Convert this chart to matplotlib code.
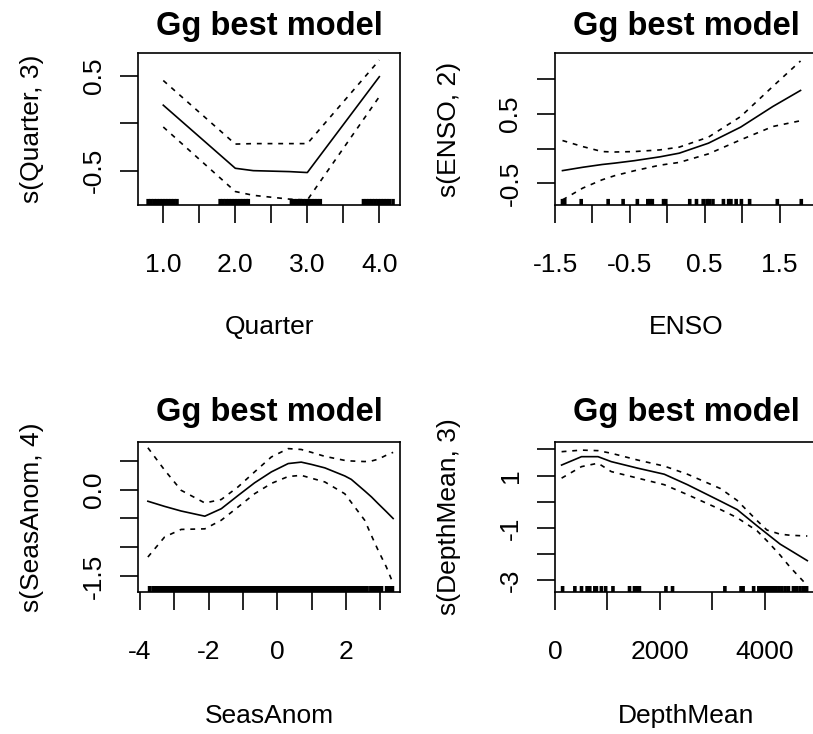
import matplotlib
matplotlib.use('Agg')
import matplotlib.pyplot as plt

plt.rcParams['font.family'] = 'Liberation Sans'
plt.rcParams['lines.scale_dashes'] = False

# ---- values ----

# Quarter, s(Quarter, 3)
quarter_x = [1.0, 2.0, 2.25, 2.75, 3.0, 4.0]
quarter_fit = [0.19, -0.475, -0.50, -0.51, -0.52, 0.49]
quarter_upper = [0.45, -0.22, -0.215, -0.215, -0.215, 0.665]
quarter_lower = [-0.04, -0.72, -0.76, -0.80, -0.81, 0.28]
quarter_rug = [0.79, 0.83, 0.87, 0.91, 0.95, 0.99, 1.03, 1.07, 1.11, 1.15, 1.19,
               1.79, 1.83, 1.87, 1.91, 1.95, 1.99, 2.03, 2.07, 2.11, 2.15, 2.18,
               2.78, 2.82, 2.86, 2.90, 2.94, 2.98, 3.02, 3.06, 3.10, 3.14, 3.18,
               3.78, 3.82, 3.86, 3.90, 3.94, 3.98, 4.02, 4.06, 4.10, 4.14, 4.19]

# ENSO, s(ENSO, 2)
enso_x = [-1.40, -1.13, -0.87, -0.70, -0.44, -0.10, 0.16, 0.55, 0.98, 1.41, 1.78]
enso_fit = [-0.318, -0.27, -0.23, -0.21, -0.175, -0.12, -0.067, 0.077, 0.308, 0.605, 0.836]
enso_upper = [0.115, 0.028, -0.044, -0.05, -0.044, -0.02, 0.02, 0.164, 0.46, 0.894, 1.26]
enso_lower = [-0.74, -0.57, -0.45, -0.39, -0.32, -0.24, -0.20, -0.077, 0.125, 0.317, 0.40]
enso_rug = [-1.40, -1.38, -1.37, -1.15, -0.79, -0.59, -0.40, -0.26, -0.23, -0.20,
            -0.05, -0.02, 0.30, 0.39, 0.48, 0.53, 0.56, 0.61, 0.75, 0.82, 0.85,
            0.92, 0.99, 1.10, 1.47, 1.79]

# SeasAnom, s(SeasAnom, 4)
seas_x = [-3.77, -3.28, -2.80, -2.11, -1.63, -1.14, -0.66, -0.17, 0.32, 0.70,
          1.00, 1.39, 1.97, 2.16, 2.55, 2.75, 2.94, 3.18, 3.38]
seas_fit = [-0.20, -0.29, -0.37, -0.46, -0.33, -0.10, 0.12, 0.31, 0.455, 0.48,
            0.44, 0.38, 0.24, 0.18, -0.02, -0.126, -0.24, -0.38, -0.50]
seas_upper = [0.73, 0.34, -0.01, -0.23, -0.17, 0.05, 0.31, 0.57, 0.715, 0.70,
              0.65, 0.58, 0.51, 0.50, 0.49, 0.50, 0.53, 0.60, 0.65]
seas_lower = [-1.17, -0.82, -0.69, -0.68, -0.53, -0.30, -0.07, 0.11, 0.23, 0.25,
              0.20, 0.135, -0.07, -0.22, -0.53, -0.80, -1.05, -1.34, -1.63]
seas_rug = [-3.72,
            -3.62, -3.54, -3.46, -3.38, -3.30, -3.22, -3.14, -3.06, -2.98, -2.90,
            -2.82, -2.74, -2.66, -2.58, -2.50, -2.42, -2.34, -2.26, -2.18, -2.10,
            -2.02, -1.94, -1.86, -1.78, -1.70, -1.62, -1.54, -1.46, -1.38, -1.30,
            -1.22, -1.14, -1.06, -0.98, -0.90, -0.82, -0.74, -0.66, -0.58, -0.50,
            -0.42, -0.34, -0.26, -0.18, -0.10, -0.02, 0.06, 0.14, 0.22, 0.30,
            0.38, 0.46, 0.54, 0.62, 0.70, 0.78, 0.86, 0.94, 1.02, 1.10,
            1.18, 1.26, 1.34, 1.42, 1.50, 1.58, 1.66, 1.74, 1.82, 1.90,
            1.98, 2.06, 2.14, 2.22, 2.30, 2.38, 2.46, 2.54, 2.62,
            2.73, 2.81, 2.89, 2.97, 3.04,
            3.19, 3.27, 3.36]

# DepthMean, s(DepthMean, 3)
depth_x = [126, 506, 821, 1074, 1580, 2085, 2528, 3160, 3476, 3855, 4044, 4297, 4487, 4815]
depth_fit = [1.40, 1.72, 1.72, 1.53, 1.28, 1.05, 0.65, 0.02, -0.30, -0.92, -1.22, -1.62, -1.85, -2.25]
depth_upper = [1.91, 1.97, 1.95, 1.85, 1.59, 1.36, 1.05, 0.50, 0.05, -0.72, -1.08, -1.24, -1.28, -1.31]
depth_lower = [0.90, 1.34, 1.47, 1.15, 0.90, 0.65, 0.27, -0.30, -0.61, -1.11, -1.49, -2.04, -2.50, -3.20]
depth_rug = [145, 379, 506, 613, 664, 760, 790, 885, 967, 1106, 1422, 1517, 1561, 1611,
             2117, 2243, 3242, 3550, 3590, 3791,
             3890, 3945, 4000, 4055, 4110, 4165, 4220, 4275, 4330,
             4392, 4455, 4550, 4613, 4677, 4739, 4802]

# ---- figure layout (pixels of the 813x734 picture) ----
W, H = 813, 734
fig = plt.figure(figsize=(W / 100, H / 100), dpi=100)
fig.patch.set_facecolor('white')

AX_W = 262


def add_axes_px(left, top, height):
    return fig.add_axes([left / W, 1 - (top + height) / H, AX_W / W, height / H])


def draw_panel(ax, x, fit, upper, lower, rug, xlim, ylim, xticks, xlabels,
               yticks, ylabels, xlabel, ylabel, height, title_pad, xlabel_drop):
    ax.plot(x, fit, color='black', lw=1.2)
    ax.plot(x, upper, color='black', lw=1.2, dashes=(3.5, 4.2))
    ax.plot(x, lower, color='black', lw=1.2, dashes=(3.5, 4.2))
    rl = ax.vlines(rug, 0, 0.04, transform=ax.get_xaxis_transform(),
                   color='black', lw=2.6)
    rl.set_snap(False)
    rl.set_capstyle('butt')
    ax.set_xlim(xlim)
    ax.set_ylim(ylim)
    ax.set_xticks(xticks, xlabels)
    ax.set_yticks(yticks, ylabels)
    ax.tick_params(length=13, width=1.2, labelsize=19, direction='out', color='black')
    ax.tick_params(axis='x', pad=21.6)
    ax.tick_params(axis='y', pad=10.4)
    for lab in ax.get_yticklabels():
        lab.set_rotation(90)
        lab.set_va('center')
    for sp in ax.spines.values():
        sp.set_linewidth(1.2)
    ax.set_title('Gg best model', fontsize=23.5, fontweight='bold', pad=title_pad)
    ax.set_xlabel(xlabel, fontsize=19)
    ax.xaxis.set_label_coords(0.5, -xlabel_drop / height)
    ax.xaxis.label.set_va('baseline')
    ax.set_ylabel(ylabel, fontsize=19)
    ax.yaxis.set_label_coords(-106 / AX_W, 0.5)
    ax.yaxis.label.set_va('center')


ax1 = add_axes_px(138, 53, 152)
draw_panel(ax1, quarter_x, quarter_fit, quarter_upper, quarter_lower, quarter_rug,
           (0.649, 4.287), (-0.862, 0.740),
           [1.0, 1.5, 2.0, 2.5, 3.0, 3.5, 4.0], ['1.0', '', '2.0', '', '3.0', '', '4.0'],
           [-0.5, 0.0, 0.5], ['-0.5', '', '0.5'],
           'Quarter', 's(Quarter, 3)', 152, 13.2, 129)

ax2 = add_axes_px(555, 53, 152)
draw_panel(ax2, enso_x, enso_fit, enso_upper, enso_lower, enso_rug,
           (-1.5, 1.89), (-0.813, 1.375),
           [-1.5, -1.0, -0.5, 0.0, 0.5, 1.0, 1.5, 2.0],
           ['-1.5', '', '-0.5', '', '0.5', '', '1.5', ''],
           [-0.5, 0.0, 0.5, 1.0], ['-0.5', '', '0.5', ''],
           'ENSO', 's(ENSO, 2)', 152, 13.2, 129)

ax3 = add_axes_px(138, 442, 150)
draw_panel(ax3, seas_x, seas_fit, seas_upper, seas_lower, seas_rug,
           (-4.058, 3.58), (-1.778, 0.83),
           [-4, -3, -2, -1, 0, 1, 2, 3], ['-4', '', '-2', '', '0', '', '2', ''],
           [-1.5, -1.0, -0.5, 0.0, 0.5], ['-1.5', '', '', '0.0', ''],
           'SeasAnom', 's(SeasAnom, 4)', 150, 15.1, 131)

ax4 = add_axes_px(555, 442, 150)
draw_panel(ax4, depth_x, depth_fit, depth_upper, depth_lower, depth_rug,
           (0, 4967), (-3.447, 2.28),
           [0, 1000, 2000, 3000, 4000, 5000], ['0', '', '2000', '', '4000', ''],
           [-3, -2, -1, 0, 1, 2], ['-3', '', '-1', '', '1', ''],
           'DepthMean', 's(DepthMean, 3)', 150, 15.1, 131)

fig.savefig('out.png', dpi=100)
